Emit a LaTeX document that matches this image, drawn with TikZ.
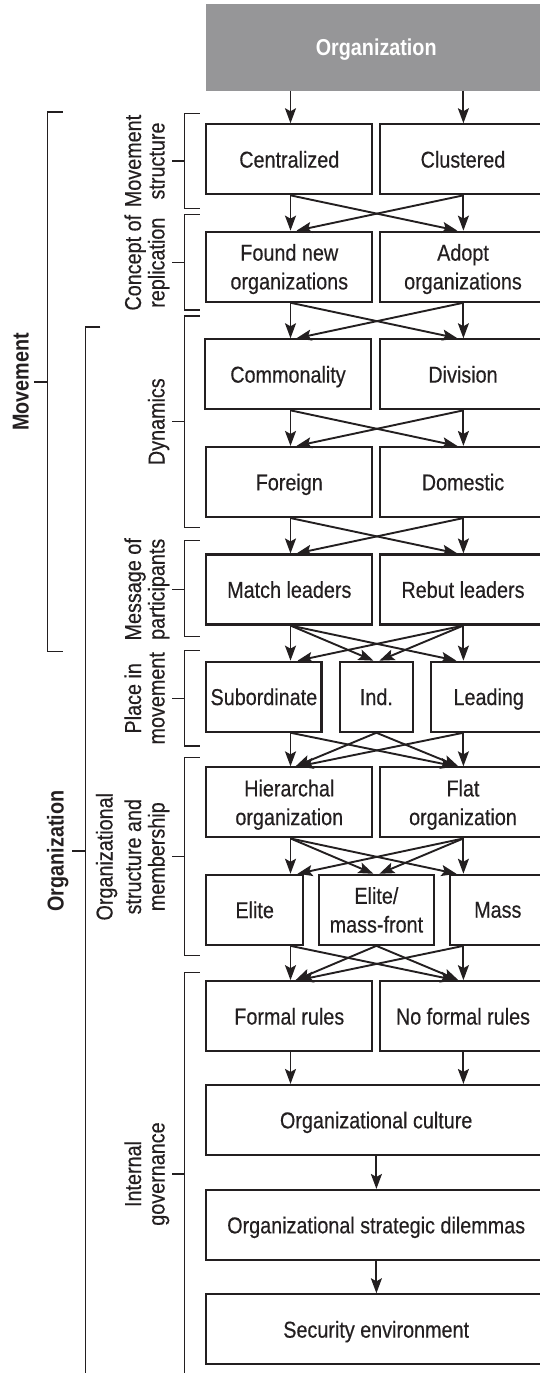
\documentclass[tikz,border=0pt]{standalone}
\usepackage{fontspec}
\setmainfont{Liberation Sans}[FakeStretch=0.86, UprightFeatures={FakeBold=0.4}]
\usetikzlibrary{arrows.meta,calc}
\definecolor{ink}{HTML}{231F20}
\definecolor{greybox}{RGB}{150,150,152}
\newcommand\xtt[4]{%
  \draw[arr] (#1.south -| L) -- (#3.north -| L);
  \draw[arr] (#1.south -| L) -- ($(#4.north -| R)+(-6,0)$);
  \draw[arr] (#2.south -| R) -- (#4.north -| R);
  \draw[arr] (#2.south -| R) -- ($(#3.north -| L)+(6,0)$);}
\newcommand\xttr[5]{%
  \draw[arr] (#1.south -| L) -- (#3.north -| L);
  \draw[arr] (#1.south -| L) -- ($(#4.north -| M)+(-3,0)$);
  \draw[arr] (#1.south -| L) -- ($(#5.north -| R)+(-7,0)$);
  \draw[arr] (#2.south -| R) -- (#5.north -| R);
  \draw[arr] (#2.south -| R) -- ($(#4.north -| M)+(3,0)$);
  \draw[arr] (#2.south -| R) -- ($(#3.north -| L)+(7,0)$);}
\newcommand\xtrt[5]{%
  \draw[arr] (#1.south -| L) -- (#4.north -| L);
  \draw[arr] (#1.south -| L) -- ($(#5.north -| R)+(-8,0)$);
  \draw[arr] (#2.south -| M) -- ($(#4.north -| L)+(5,0)$);
  \draw[arr] (#2.south -| M) -- ($(#5.north -| R)+(-5,0)$);
  \draw[arr] (#3.south -| R) -- (#5.north -| R);
  \draw[arr] (#3.south -| R) -- ($(#4.north -| L)+(8,0)$);}
\newcommand\subbr[3]{%
  \draw[brk] (199.5,#1) -- (184.6,#1) -- (184.6,#2) -- (199.5,#2);
  \draw[brk] (172,#3) -- (184.6,#3);}
\begin{document}
\begin{tikzpicture}[x=1pt,y=-1pt,
  every node/.style={font=\fontsize{23}{28.7}\selectfont, text=ink},
  box/.style={draw=ink, line width=2.1pt, inner sep=0pt, align=center, minimum height=70pt, text depth=0pt},
  lbox/.style={box, minimum width=166pt},
  fbox/.style={box, minimum width=339.7pt},
  lab/.style={rotate=90, anchor=base, inner sep=0pt},
  boldlab/.style={lab, font=\fontsize{23}{28.7}\selectfont\bfseries},
  arr/.style={draw=ink, line width=1.9pt, -{Stealth[length=15pt,width=11pt,inset=3pt]}},
  brk/.style={draw=ink, line width=1.1pt}]
\useasboundingbox (0,0) rectangle (539,1373);
\coordinate (L) at (290.5,0);
\coordinate (M) at (376.4,0);
\coordinate (R) at (463.4,0);
% top box
\node[fill=greybox, minimum width=339.7pt, minimum height=86.7pt, inner sep=0pt, text depth=0pt,
      text=white, font=\fontsize{23}{28.7}\selectfont\bfseries] (org) at (376.2,47.35) {Organization};
% rows
\node[lbox] (cen) at (289.3,159.3) {Centralized};
\node[lbox] (clu) at (463,159.3) {Clustered};
\node[lbox] (fnd) at (289.3,266.7) {Found new\\organizations};
\node[lbox] (adp) at (463,266.7) {Adopt\\organizations};
\node[lbox] (com) at (288,374.3) {Commonality};
\node[lbox] (div) at (463,374.3) {Division};
\node[lbox] (for) at (289.3,482) {Foreign};
\node[lbox] (dom) at (463,482) {Domestic};
\node[lbox] (mat) at (289.3,589.5) {Match leaders};
\node[lbox] (reb) at (463,589.5) {Rebut leaders};
\node[box, minimum width=115.1pt] (sub) at (263.9,696.7) {Subordinate};
\node[box, minimum width=73.6pt] (ind) at (376.4,696.7) {Ind.};
\node[box, minimum width=114.6pt] (lea) at (488.7,696.7) {Leading};
\node[lbox] (hie) at (289.3,802.4) {Hierarchal\\organization};
\node[lbox] (fla) at (463,802.4) {Flat\\organization};
\node[box, minimum width=96.7pt] (eli) at (254.7,909.8) {Elite};
\node[box, minimum width=114.8pt] (emf) at (376.4,909.8) {Elite/\\mass-front};
\node[box, minimum width=96.4pt] (mas) at (497.8,909.8) {Mass};
\node[lbox] (frm) at (289.3,1016.2) {Formal rules};
\node[lbox] (nfr) at (463,1016.2) {No formal rules};
\node[fbox] (cul) at (376.2,1120) {Organizational culture};
\node[fbox] (str) at (376.2,1225) {Organizational strategic dilemmas};
\node[fbox] (sec) at (376.2,1329.3) {Security environment};
% arrows
\draw[arr] (org.south -| L) -- (cen.north -| L);
\draw[arr] (org.south -| R) -- (clu.north -| R);
\xtt{cen}{clu}{fnd}{adp}
\xtt{fnd}{adp}{com}{div}
\xtt{com}{div}{for}{dom}
\xtt{for}{dom}{mat}{reb}
\xttr{mat}{reb}{sub}{ind}{lea}
\xtrt{sub}{ind}{lea}{hie}{fla}
\xttr{hie}{fla}{eli}{emf}{mas}
\xtrt{eli}{emf}{mas}{frm}{nfr}
\draw[arr] (frm.south -| L) -- (cul.north -| L);
\draw[arr] (nfr.south -| R) -- (cul.north -| R);
\draw[arr] (cul.south -| M) -- (str.north -| M);
\draw[arr] (str.south -| M) -- (sec.north -| M);
% outer brackets
\draw[brk] (62.6,112) -- (47.4,112) -- (47.4,651.7) -- (62.6,651.7);
\draw[brk] (34.4,382) -- (47.4,382);
\draw[brk] (100.4,327) -- (85.3,327) -- (85.3,1380);
\draw[brk] (72,851) -- (85.3,851);
\node[boldlab] (bmov) at (28.5,382) {Movement};
\node[boldlab] (borg) at (63.5,851) {Organization};
% sub brackets
\subbr{113.3}{208.3}{161}
\subbr{214.3}{310}{262.7}
\subbr{316}{527.3}{421.7}
\subbr{540.7}{636.7}{589.3}
\subbr{650.7}{746}{698.3}
\subbr{757.7}{955.7}{856.7}
\draw[brk] (199.5,972.7) -- (184.6,972.7) -- (184.6,1380);
\draw[brk] (172,1174) -- (184.6,1174);
% sub labels
\node[lab] (la1) at (141,161) {Movement};
\node[lab] (lb1) at (164.5,161) {structure};
\node[lab] (la2) at (141,262.7) {Concept of};
\node[lab] (lb2) at (164.5,262.7) {replication};
\node[lab] (lb3) at (164.5,421.7) {Dynamics};
\node[lab] (la4) at (141,589.3) {Message of};
\node[lab] (lb4) at (164.5,589.3) {participants};
\node[lab] (la5) at (141,698.3) {Place in};
\node[lab] (lb5) at (164.5,698.3) {movement};
\node[lab] (lz6) at (112.5,856.7) {Organizational};
\node[lab] (la6) at (141,856.7) {structure and};
\node[lab] (lb6) at (164.5,856.7) {membership};
\node[lab] (la7) at (141,1174) {Internal};
\node[lab] (lb7) at (164.5,1174) {governance};
\end{tikzpicture}
\end{document}
